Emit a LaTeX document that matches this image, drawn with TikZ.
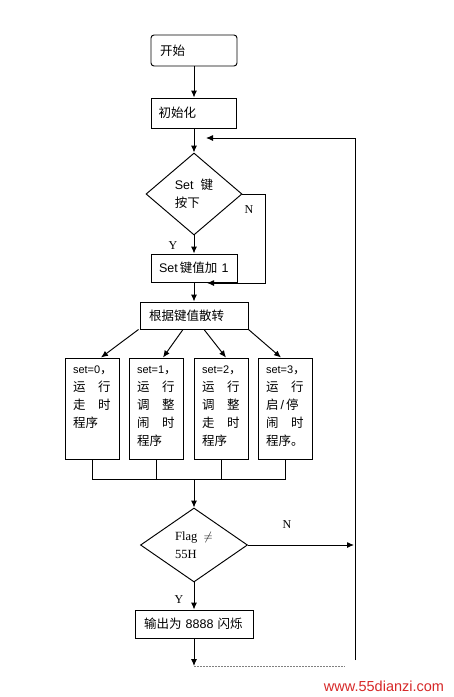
\documentclass[tikz,border=0pt]{standalone}
\usepackage{fontspec}
\setmainfont{Liberation Serif}
\newfontfamily\cjk{Noto Sans CJK SC}
\newfontfamily\lsans{Liberation Sans}
\usetikzlibrary{arrows.meta,shapes.geometric,calc}
\definecolor{wmred}{RGB}{215,40,40}
\begin{document}
\begin{tikzpicture}[x=1pt,y=-1pt,line width=0.95pt,
  >={Latex[length=7pt,width=6pt]},
  box/.style={draw,rectangle,inner xsep=9pt,inner ysep=0pt,align=left,
    font=\cjk\fontsize{12.5}{15}\selectfont},
  pbox/.style={draw,rectangle,inner xsep=8pt,inner ysep=8pt,
    font=\cjk\fontsize{12.5}{18}\selectfont},
  dia/.style={draw,diamond,inner sep=0pt,align=left,
    font=\fontsize{12.5}{18}\selectfont},
  lbl/.style={font=\fontsize{12}{12}\selectfont,inner sep=0pt}]
\useasboundingbox (0,0) rectangle (454,697);
\fill[white] (0,0) rectangle (454,697);
% nodes
\node[box,minimum width=86pt,text width=68pt,minimum height=31pt,rounded corners=3pt] (start) at (194,50.5) {开始};
\node[box,minimum width=85pt,minimum height=30pt,inner xsep=7pt,text width=71pt] (init) at (194,113) {初始化};
\node[dia,minimum width=96pt,minimum height=82pt] (d1) at (194,194) {\lsans Set\ \ {\cjk 键}\\{\cjk 按下}};
\node[box,minimum width=86pt,minimum height=28pt,inner xsep=8pt,text width=70pt] (setadd) at (194,268) {{\lsans Set\,}键值加{\lsans\ 1}};
\node[box,minimum width=108pt,text width=90pt,minimum height=27pt] (disp) at (194,315.5) {根据键值散转};
\node[pbox] (b1) at (92,408.5) {\parbox[t][85pt][t]{38pt}{{\lsans\fontsize{11}{18}\selectfont set=0}，\\运　行\\走　时\\程序}};
\node[pbox] (b2) at (156,408.5) {\parbox[t][85pt][t]{38pt}{{\lsans\fontsize{11}{18}\selectfont set=1}，\\运　行\\调　整\\闹　时\\程序}};
\node[pbox] (b3) at (221,408.5) {\parbox[t][85pt][t]{38pt}{{\lsans\fontsize{11}{18}\selectfont set=2}，\\运　行\\调　整\\走　时\\程序}};
\node[pbox] (b4) at (285,408.5) {\parbox[t][85pt][t]{38pt}{{\lsans\fontsize{11}{18}\selectfont set=3}，\\运　行\\启{\lsans\,/\,}停\\闹　时\\程序。}};
\node[dia,minimum width=107pt,minimum height=74pt] (d2) at (194,545) {Flag\ \ $\neq$\\55H};
\node[box,minimum width=118pt,text width=100pt,minimum height=28pt] (out) at (194,624) {输出为{\lsans\ 8888\ }闪烁};
% labels
\node[lbl] (n1) at (249,210) {N};
\node[lbl] (y1) at (173,246) {Y};
\node[lbl] (n2) at (287,525) {N};
\node[lbl] (y2) at (179,600) {Y};
\node[text=wmred,font=\lsans\fontsize{14.5}{14.5}\selectfont,inner sep=0pt] (wm) at (384,686) {www.55dianzi.com};
% coordinates
\coordinate (rb) at (355,660);
\coordinate (rt) at (355,138);
\coordinate (rl) at (206,138);
\coordinate (nb2) at (265,283);
\coordinate (nbt) at (207,283);
\coordinate (n2t) at (354,545);
\coordinate (c1) at ($(b1.south)+(0,20)$);
\coordinate (e1) at (194,666);
\coordinate (e2) at (345,666);
% connectors
\draw[->] (start) -- (init);
\draw[->] (init) -- (d1);
\draw[->] (rb) -- (rt) -- (rl);
\draw[->] (d1.east) -| (nb2) -- (nbt);
\draw[->] (d1.south) -- (setadd.north);
\draw[->] (setadd.south) -- (disp.north);
\draw[->] ($(disp.south west)+(-1,0)$) -- ($(b1.north)+(9,0)$);
\draw[->] ($(disp.south)+(-11,0)$) -- ($(b2.north)+(7,0)$);
\draw[->] ($(disp.south)+(10,0)$) -- ($(b3.north)+(5,0)$);
\draw[->] (disp.south east) -- ($(b4.north)+(-4,0)$);
\draw (b1.south) -- (c1) -| (b4.south);
\draw (b2.south) -- (b2.south|-c1);
\draw (b3.south) -- (b3.south|-c1);
\draw[->] (d2.north|-c1) -- (d2.north);
\draw[->] (d2.east) -- (n2t);
\draw[->] (d2.south) -- (out.north);
\draw[->] (out.south) -- (e1);
\draw[gray,line width=0.6pt,dash pattern=on 2pt off 1pt] (e1) -- (e2);
\end{tikzpicture}
\end{document}
